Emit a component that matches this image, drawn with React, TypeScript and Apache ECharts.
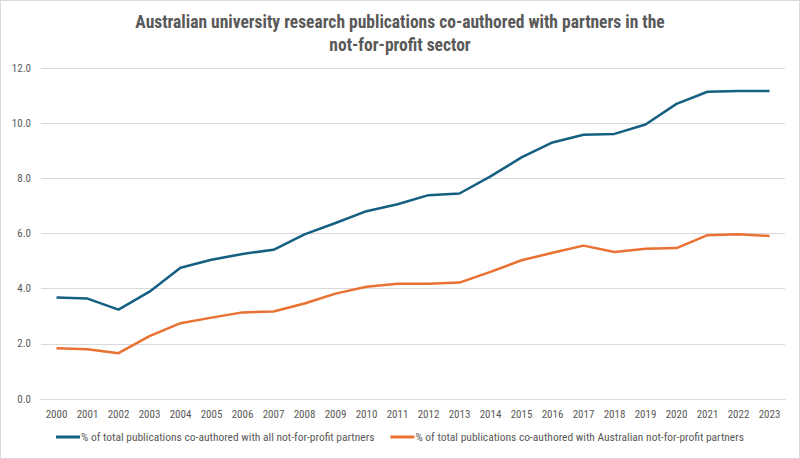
import React from 'react';
import * as echarts from 'echarts';

const YEARS = [
  '2000', '2001', '2002', '2003', '2004', '2005', '2006', '2007', '2008', '2009', '2010', '2011',
  '2012', '2013', '2014', '2015', '2016', '2017', '2018', '2019', '2020', '2021', '2022', '2023',
];

const ALL_NFP = [
  3.68, 3.64, 3.24, 3.89, 4.76, 5.05, 5.26, 5.41, 5.97, 6.38, 6.81, 7.06,
  7.39, 7.45, 8.07, 8.76, 9.3, 9.58, 9.61, 9.95, 10.7, 11.14, 11.17, 11.17,
];

const AUS_NFP = [
  1.84, 1.8, 1.66, 2.28, 2.75, 2.95, 3.14, 3.17, 3.46, 3.82, 4.07, 4.18,
  4.18, 4.22, 4.61, 5.03, 5.3, 5.56, 5.33, 5.45, 5.47, 5.94, 5.97, 5.91,
];

const SERIES_NAMES = [
  '% of total publications co-authored with all not-for-profit partners',
  '% of total publications co-authored with Australian not-for-profit partners',
];

const FONT = '"Liberation Sans Narrow", "Roboto Condensed", Roboto, sans-serif';

const App: React.FC = () => {
  const chartRef = React.useRef<HTMLDivElement>(null);

  React.useEffect(() => {
    document.body.style.margin = '0';
    if (!chartRef.current) return;
    const chart = echarts.init(chartRef.current, undefined, { renderer: 'svg' });
    chart.setOption({
      animation: false,
      backgroundColor: '#ffffff',
      title: {
        text: 'Australian university research publications co-authored with partners in the\nnot-for-profit sector',
        left: 'center',
        top: 4,
        textStyle: {
          fontFamily: FONT,
          fontSize: 17.5,
          fontWeight: 'bold',
          color: '#595959',
          lineHeight: 23,
        },
      },
      grid: { left: 40, right: 14, top: 67, bottom: 59 },
      legend: {
        bottom: 10,
        left: 'center',
        icon: 'rect',
        itemWidth: 24,
        itemHeight: 3,
        itemGap: 16,
        textStyle: { fontFamily: FONT, fontSize: 11.5, color: '#595959', padding: [0, 0, 0, -4] },
        data: SERIES_NAMES,
      },
      xAxis: {
        type: 'category',
        data: YEARS,
        boundaryGap: true,
        axisLine: { show: true, lineStyle: { color: '#d9d9d9', width: 1 } },
        axisTick: { show: false },
        axisLabel: { fontFamily: FONT, fontSize: 11, color: '#595959', margin: 10, interval: 0 },
      },
      yAxis: {
        type: 'value',
        min: 0,
        max: 12,
        interval: 2,
        axisLine: { show: false },
        axisTick: { show: false },
        axisLabel: {
          fontFamily: FONT,
          fontSize: 11,
          color: '#595959',
          margin: 10,
          formatter: (v: number) => v.toFixed(1),
        },
        splitLine: { lineStyle: { color: '#d9d9d9', width: 1 } },
      },
      series: [
        {
          name: SERIES_NAMES[0],
          type: 'line',
          data: ALL_NFP,
          symbol: 'none',
          lineStyle: { color: '#156082', width: 2.5 },
          itemStyle: { color: '#156082' },
        },
        {
          name: SERIES_NAMES[1],
          type: 'line',
          data: AUS_NFP,
          symbol: 'none',
          lineStyle: { color: '#e97132', width: 2.5 },
          itemStyle: { color: '#e97132' },
        },
      ],
    });
    return () => {
      chart.dispose();
    };
  }, []);

  return (
    <div
      ref={chartRef}
      style={{
        width: '800px',
        height: '459px',
        boxSizing: 'border-box',
        border: '1px solid #d9d9d9',
      }}
    />
  );
};

export default App;
